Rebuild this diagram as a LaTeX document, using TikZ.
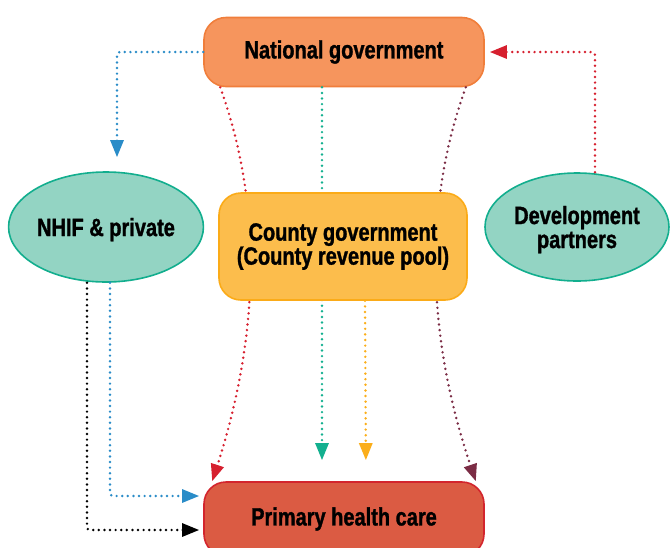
\documentclass[tikz,border=0pt]{standalone}
\usepackage{fontspec}
\newfontfamily\diagfont{Liberation Sans}[FakeStretch=0.8, FakeBold=1.2]
\usetikzlibrary{arrows.meta,shapes.geometric}

\definecolor{natfill}{HTML}{F6955D}
\definecolor{natline}{HTML}{F07E3B}
\definecolor{cntfill}{HTML}{FCBD4C}
\definecolor{cntline}{HTML}{FBAB18}
\definecolor{phcfill}{HTML}{DB5B43}
\definecolor{phcline}{HTML}{D3252D}
\definecolor{ovfill}{HTML}{93D4C3}
\definecolor{ovline}{HTML}{12AE8E}
\definecolor{flowblue}{HTML}{2A8CC8}
\definecolor{flowred}{HTML}{D6202F}
\definecolor{flowteal}{HTML}{13B08F}
\definecolor{flowyellow}{HTML}{FBAE1A}
\definecolor{flowplum}{HTML}{7B2C45}

\tikzset{
  lbl/.style={font=\diagfont\bfseries\fontsize{25}{24}\selectfont, align=center, text=black},
  govbox/.style={lbl, draw, line width=1.6pt, rounded corners=22pt, inner sep=0pt},
  fundoval/.style={lbl, ellipse, draw=ovline, fill=ovfill, line width=1.6pt, inner sep=0pt, text depth=0pt},
  flow/.style={line width=2.7pt, line cap=round, dash pattern=on 0pt off 5.6pt,
    rounded corners=3pt, -{Triangle[length=17pt,width=13pt]}}
}

\begin{document}
\begin{tikzpicture}[x=1pt,y=-1pt]
\useasboundingbox (0,0) rectangle (670,547);

% the boxes and the two funding sources
\node[govbox, draw=natline, fill=natfill, minimum width=280pt, minimum height=69pt] (nat) at (344,52) {National government};
\node[govbox, draw=phcline, fill=phcfill, minimum width=280pt, minimum height=74pt] (phc) at (344,519) {Primary health care};
\node[fundoval, minimum width=188pt, minimum height=110pt] (nhif) at (106,227) {NHIF \& private};
\node[fundoval, minimum width=184pt, minimum height=108pt] (dev) at (577,227) {Development\\partners};

% national flows running behind the county box
\draw[flow, flowred, rounded corners=0pt] ([xshift=17pt]nat.south west) .. controls +(41,113) and +(49,-151) .. ([xshift=9pt]phc.north west);
\draw[flow, flowplum, rounded corners=0pt] ([xshift=-19pt]nat.south east) .. controls +(-41,113) and +(-51,-151) .. ([xshift=-9pt]phc.north east);
\draw[flow, flowteal, shorten >=21pt] ([xshift=-22pt]nat.south) -- ([xshift=-22pt]phc.north);

\node[govbox, draw=cntline, fill=cntfill, minimum width=248pt, minimum height=107pt] (county) at (343,246.5) {County government\\(County revenue pool)};

\draw[flow, flowyellow, shorten >=21pt] ([xshift=22pt]county.south) -- ([xshift=22pt]phc.north);

% side flows
\draw[flow, flowblue] (nat.west) -| ([xshift=11pt,yshift=14pt]nhif.north);
\draw[flow, flowred, shorten >=5pt] ([xshift=18pt]dev.north) |- (nat.east);
\draw[flow, flowblue, shorten >=4pt] ([xshift=4pt]nhif.south) |- ([yshift=23pt]phc.west);
\draw[flow, black, shorten >=4pt] ([xshift=-19pt]nhif.south) |- ([yshift=-11pt]phc.west);
\end{tikzpicture}
\end{document}
